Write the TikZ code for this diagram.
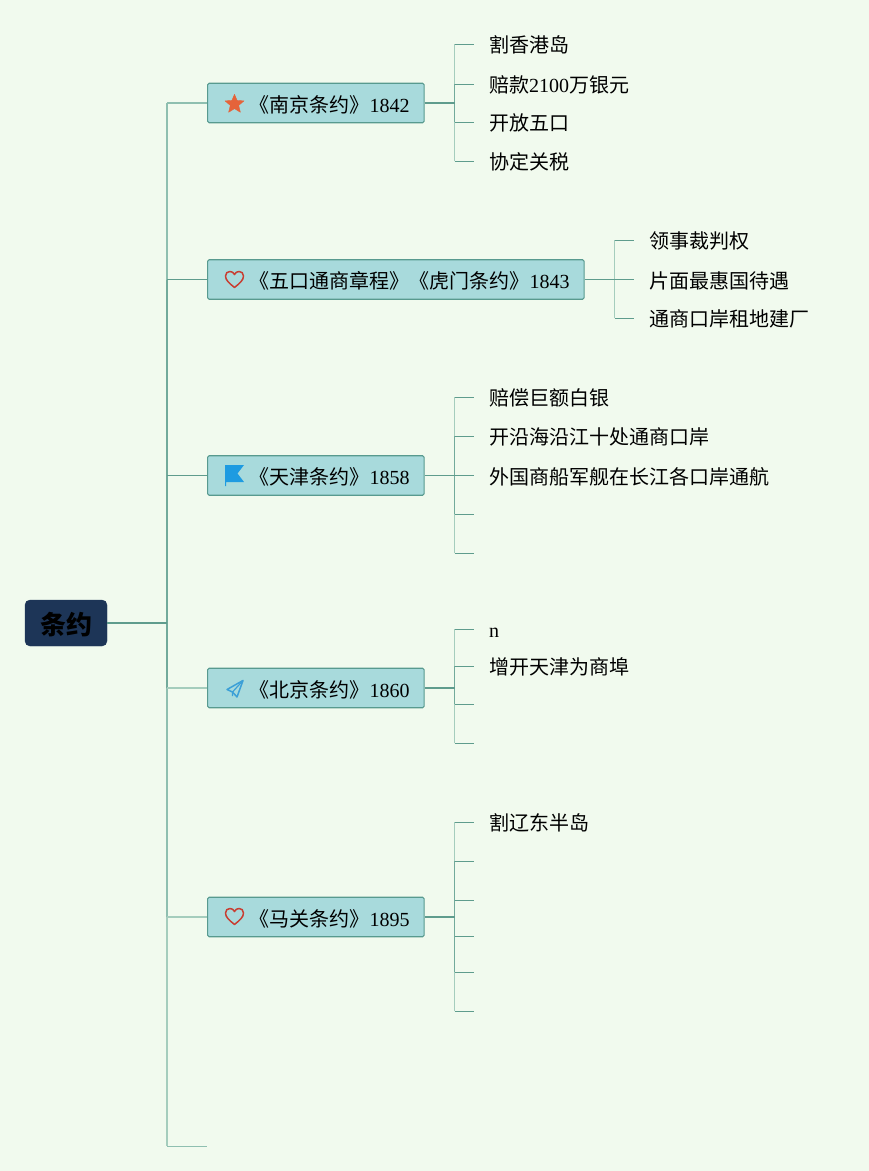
\documentclass[tikz,border=0pt]{standalone}
\usepackage{fontspec}
\setmainfont{Liberation Serif}
\newfontfamily\cjk{Noto Sans CJK SC}
\definecolor{bgc}{HTML}{F1FAEE}
\definecolor{boxc}{HTML}{A8DADC}
\definecolor{boxe}{HTML}{589A8F}
\definecolor{rootc}{HTML}{1D3557}
\definecolor{darkl}{HTML}{5F9C8D}
\definecolor{midl}{HTML}{72AA9B}
\definecolor{softl}{HTML}{8FBFB0}
\definecolor{palel}{HTML}{A5CDBD}
\definecolor{heartc}{RGB}{200,62,50}
\definecolor{starc}{RGB}{229,99,58}
\definecolor{flagc}{RGB}{30,155,225}
\definecolor{planec}{RGB}{60,160,215}
\tikzset{
  x=1pt,y=-1pt,
  rootbox/.style={draw=rootc,fill=rootc,rounded corners=5pt,minimum height=46pt,inner xsep=15pt,inner ysep=0pt,anchor=center,text height=25pt,text depth=2pt,font=\cjk\bfseries\fontsize{26pt}{30pt}\selectfont,text=black},
  topicbox/.style={draw=boxe,line width=1.1pt,fill=boxc,rounded corners=1.5pt,minimum height=39.5pt,inner xsep=0pt,inner ysep=0pt,anchor=west,text height=19pt,text depth=1pt,font=\fontsize{20pt}{24pt}\selectfont,text=black},
  leaf/.style={inner xsep=15pt,inner ysep=0pt,anchor=west,text height=18pt,text depth=1pt,font=\fontsize{20pt}{24pt}\selectfont,text=black},
  buspale/.style={draw=palel,line width=1.5pt},
  busdark/.style={draw=midl,line width=1.5pt},
  tick/.style={draw=darkl,line width=1pt},
  stemthick/.style={draw=darkl,line width=1.8pt},
  spinesoft/.style={draw=softl,line width=1.6pt},
  spinepale/.style={draw=palel,line width=1.6pt},
  spinedark/.style={draw=midl,line width=1.7pt},
  branchpale/.style={draw=palel,line width=1.5pt},
  branchthin/.style={draw=darkl,line width=1pt},
  heartline/.style={draw=heartc,line width=1.5pt,line join=round},
  planeline/.style={draw=planec,line width=1.5pt,line join=round},
}
\newcommand{\tbox}[1]{\hspace*{42pt}#1\hspace*{14.5pt}}
\begin{document}
\begin{tikzpicture}
\useasboundingbox (0,0) rectangle (869,1171);
\fill[bgc] (0,0) rectangle (869,1171);

% nodes
\node[rootbox] (root) at (66,623) {条约};
\node[topicbox] (t1) at (207,103) {\tbox{{\cjk 《南京条约》}1842}};
\node[topicbox] (t2) at (207,279.5) {\tbox{{\cjk 《五口通商章程》《虎门条约》}1843}};
\node[topicbox] (t3) at (207,475.5) {\tbox{{\cjk 《天津条约》}1858}};
\node[topicbox] (t4) at (207,688) {\tbox{{\cjk 《北京条约》}1860}};
\node[topicbox] (t5) at (207,917) {\tbox{{\cjk 《马关条约》}1895}};
\coordinate (t6) at (207,1146);
\coordinate (spine) at (167,623);

\node[leaf] (a1) at (474,44) {\cjk 割香港岛};
\node[leaf] (a2) at (474,84) {{\cjk 赔款}2100{\cjk 万银元}};
\node[leaf] (a3) at (474,122) {\cjk 开放五口};
\node[leaf] (a4) at (474,161) {\cjk 协定关税};

\node[leaf] (b1) at (634,240) {\cjk 领事裁判权};
\node[leaf] (b2) at (634,279.5) {\cjk 片面最惠国待遇};
\node[leaf] (b3) at (634,318) {\cjk 通商口岸租地建厂};

\node[leaf] (c1) at (474,397) {\cjk 赔偿巨额白银};
\node[leaf] (c2) at (474,436) {\cjk 开沿海沿江十处通商口岸};
\node[leaf] (c3) at (474,475.5) {\cjk 外国商船军舰在长江各口岸通航};
\coordinate (c4) at (474,514);
\coordinate (c5) at (474,553);

\node[leaf] (d1) at (474,629) {n};
\node[leaf] (d2) at (474,666) {\cjk 增开天津为商埠};
\coordinate (d3) at (474,704);
\coordinate (d4) at (474,743);

\node[leaf] (e1) at (474,822) {\cjk 割辽东半岛};
\coordinate (e2) at (474,861);
\coordinate (e3) at (474,900);
\coordinate (e4) at (474,936);
\coordinate (e5) at (474,972);
\coordinate (e6) at (474,1011);

% bus x positions
\path (t1.east) ++(30,0) coordinate (bt1);
\path (t2.east) ++(30,0) coordinate (bt2);
\path (t3.east) ++(30,0) coordinate (bt3);
\path (t4.east) ++(30,0) coordinate (bt4);
\path (t5.east) ++(30,0) coordinate (bt5);

% main connectors (outermost first, so the inner dark ones sit on top)
\draw[spinesoft] (spine) -- (spine |- t1.west);
\draw[spinepale] (spine) -- (spine |- t6);
\draw[spinedark,draw=softl] (spine) -- (spine |- t5.west);
\draw[spinedark] (spine) -- (spine |- t4.west);
\draw[spinedark] (spine) -- (spine |- t2.west);
\draw[branchthin] (spine |- t2.west) -- (t2.west);
\draw[branchthin] (spine |- t3.west) -- (t3.west);
\draw[branchpale,draw=softl] (spine |- t1.west) -- (t1.west);
\draw[branchpale] (spine |- t4.west) -- (t4.west);
\draw[branchpale] (spine |- t5.west) -- (t5.west);
\draw[branchthin,draw=softl] (spine |- t6) -- (t6);
\draw[stemthick] (root.east) -- (spine);

% leaf connectors: vertical bus, pale at the far ends
\foreach \p/\q in {t1/a1,t1/a4,t3/c1,t3/c5,t4/d1,t4/d4,t5/e1,t5/e6,t2/b1,t2/b3}{
  \draw[buspale] (b\p) -- (b\p |- \q);
}
\foreach \p/\q in {t1/a2,t1/a3,t3/c2,t3/c4,t4/d2,t4/d3,t5/e2,t5/e5}{
  \draw[busdark] (b\p) -- (b\p |- \q);
}
% horizontal ticks
\foreach \p/\q in {t1/a1,t1/a2,t1/a3,t1/a4,t2/b1,t3/c1,t3/c2,t3/c4,t3/c5,t4/d1,t4/d2,t4/d3,t4/d4,t5/e1,t5/e2,t5/e3,t5/e4,t5/e5,t5/e6,t2/b3}{
  \draw[tick] (b\p |- \q) -- (\q);
}
\draw[tick] (t2.east) -- (b2.west);
\draw[tick] (t3.east) -- (c3.west);
\draw[stemthick] (t1.east) -- (bt1);
\draw[stemthick] (t4.east) -- (bt4);
\draw[stemthick] (t5.east) -- (bt5);

% icons
\filldraw[fill=starc,draw=starc,line width=0.4pt,line join=round]
  (234.5,94.3) -- (237.1,100.4) -- (244,100.9) -- (238.7,105.4) -- (240.4,112.3)
  -- (234.5,108.6) -- (228.6,112.3) -- (230.3,105.4) -- (225,100.9) -- (231.9,100.4) -- cycle;
\draw[heartline]
  (234.5,287.5) .. controls (229,283) and (225.5,280) .. (225.5,276)
  .. controls (225.5,273) and (227.5,271.5) .. (230,271.5)
  .. controls (232,271.5) and (233.5,272.5) .. (234.5,274.5)
  .. controls (235.5,272.5) and (237,271.5) .. (239,271.5)
  .. controls (241.5,271.5) and (243.5,273) .. (243.5,276)
  .. controls (243.5,280) and (240,283) .. (234.5,287.5) -- cycle;
\draw[heartline]
  (234.5,924.5) .. controls (229,920) and (225.5,917) .. (225.5,913)
  .. controls (225.5,910) and (227.5,908.5) .. (230,908.5)
  .. controls (232,908.5) and (233.5,909.5) .. (234.5,911.5)
  .. controls (235.5,909.5) and (237,908.5) .. (239,908.5)
  .. controls (241.5,908.5) and (243.5,910) .. (243.5,913)
  .. controls (243.5,917) and (240,920) .. (234.5,924.5) -- cycle;
\fill[flagc] (225,465) -- (244,465) -- (237.5,473.5) -- (244,482) -- (226,482) -- (226,486) -- (225,486) -- cycle;
\draw[planeline] (243,680.5) -- (227,689.5) -- (232.5,692) -- (237,697) -- cycle;
\draw[planeline,line width=1.2pt] (243,680.5) -- (232.5,692) -- (232.5,696);
\end{tikzpicture}
\end{document}
